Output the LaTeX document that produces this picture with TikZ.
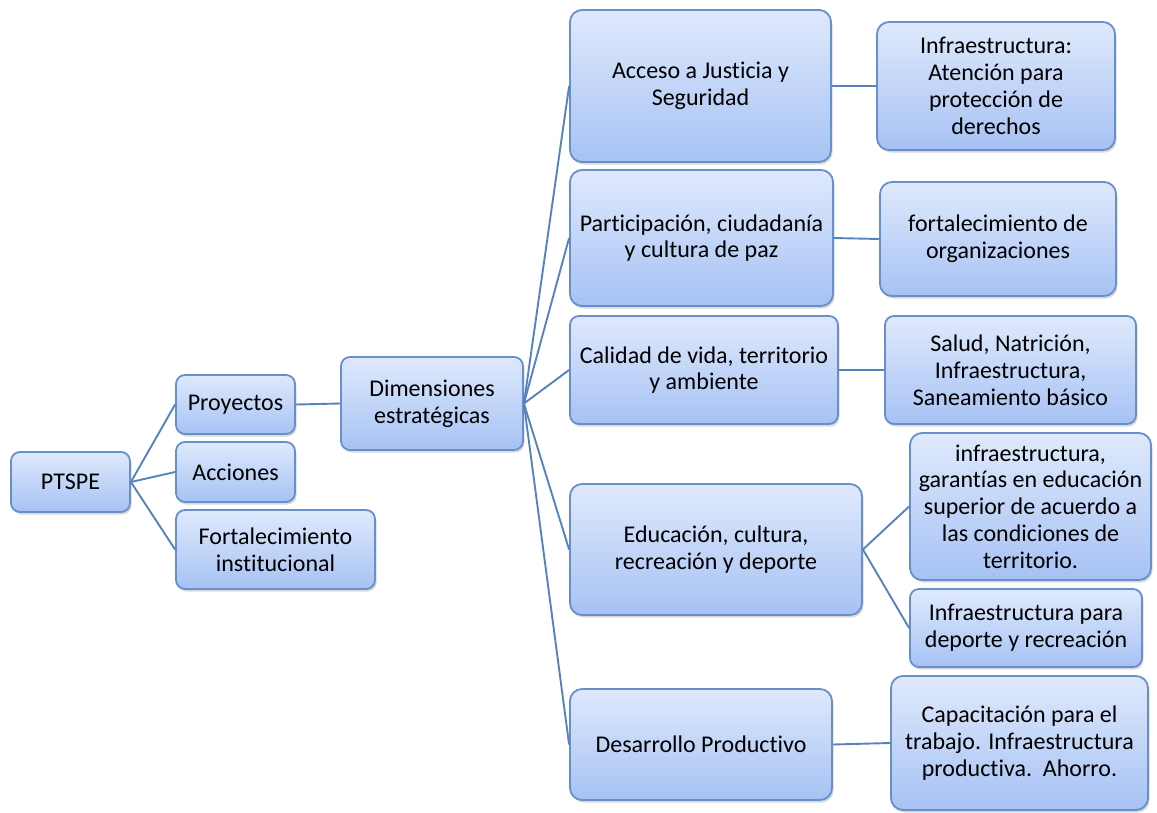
\documentclass[tikz,border=0pt]{standalone}
\usepackage{fontspec}
\setmainfont{Carlito}[Ligatures=NoCommon]
\usetikzlibrary{shadows}
\definecolor{boxtop}{HTML}{DFE9FC}
\definecolor{boxbot}{HTML}{A6C2F4}
\definecolor{boxline}{HTML}{6690C7}
\definecolor{connline}{HTML}{5683BF}
\tikzset{
  box/.style={draw=boxline, line width=1.8pt, rounded corners=9pt,
    top color=boxtop, bottom color=boxbot, align=center, inner sep=2pt,
    font=\fontsize{24}{26.8}\selectfont,
    drop shadow={opacity=0.3, shadow xshift=1.5pt, shadow yshift=-2.5pt}},
  conn/.style={draw=connline, line width=1.9pt}
}
\begin{document}
\begin{tikzpicture}[x=1pt,y=-1pt]
\useasboundingbox (0,0) rectangle (1157,812);
\node[box, minimum width=119, minimum height=60] (ptspe) at (70.5,482) {PTSPE};
\node[box, minimum width=119, minimum height=59] (proy) at (235.5,404.5) {Proyectos};
\node[box, minimum width=119, minimum height=60] (acc) at (235.5,472) {Acciones};
\node[box, minimum width=199, minimum height=79] (fort) at (275.5,549.5) {Fortalecimiento\\institucional};
\node[box, minimum width=182, minimum height=93] (dim) at (432,403.5) {Dimensiones\\estratégicas};
\node[box, minimum width=261, minimum height=152, rounded corners=12pt] (acceso) at (700.5,86) {Acceso a Justicia y\\Seguridad};
\node[box, minimum width=263, minimum height=136, rounded corners=12pt] (part) at (701.5,238) {Participación, ciudadanía\\y cultura de paz};
\node[box, minimum width=268, minimum height=108] (cal) at (704,370) {Calidad de vida, territorio\\y ambiente};
\node[box, minimum width=292, minimum height=131, rounded corners=12pt] (edu) at (716,549.5) {Educación, cultura,\\recreación y deporte};
\node[box, minimum width=262, minimum height=111, rounded corners=12pt] (des) at (701,744.5) {Desarrollo Productivo};
\node[box, minimum width=238, minimum height=128, rounded corners=12pt] (inf1) at (996,86) {Infraestructura:\\Atención para\\protección de\\derechos};
\node[box, minimum width=236, minimum height=114, rounded corners=12pt] (forg) at (998,239) {fortalecimiento de\\organizaciones};
\node[box, minimum width=251, minimum height=108] (salud) at (1010.5,370) {Salud, Natrición,\\Infraestructura,\\Saneamiento básico};
\node[box, minimum width=241, minimum height=147, rounded corners=12pt] (garan) at (1030.5,506.5) {infraestructura,\\garantías en educación\\superior de acuerdo a\\las condiciones de\\territorio.};
\node[box, minimum width=232, minimum height=78] (dep) at (1026,628) {Infraestructura para\\deporte y recreación};
\node[box, minimum width=257, minimum height=134, rounded corners=12pt] (cap) at (1019.5,743) {Capacitación para el\\trabajo. Infraestructura\\productiva.\ \ Ahorro.};
\draw[conn] (ptspe.east) -- (proy.west);
\draw[conn] (ptspe.east) -- (acc.west);
\draw[conn] (ptspe.east) -- (fort.west);
\draw[conn] (proy.east) -- (dim.west);
\draw[conn] (dim.east) -- (acceso.west);
\draw[conn] (dim.east) -- (part.west);
\draw[conn] (dim.east) -- (cal.west);
\draw[conn] (dim.east) -- (edu.west);
\draw[conn] (dim.east) -- (des.west);
\draw[conn] (acceso.east) -- (inf1.west);
\draw[conn] (part.east) -- (forg.west);
\draw[conn] (cal.east) -- (salud.west);
\draw[conn] (edu.east) -- (garan.west);
\draw[conn] (edu.east) -- (dep.west);
\draw[conn] (des.east) -- (cap.west);
\end{tikzpicture}
\end{document}
